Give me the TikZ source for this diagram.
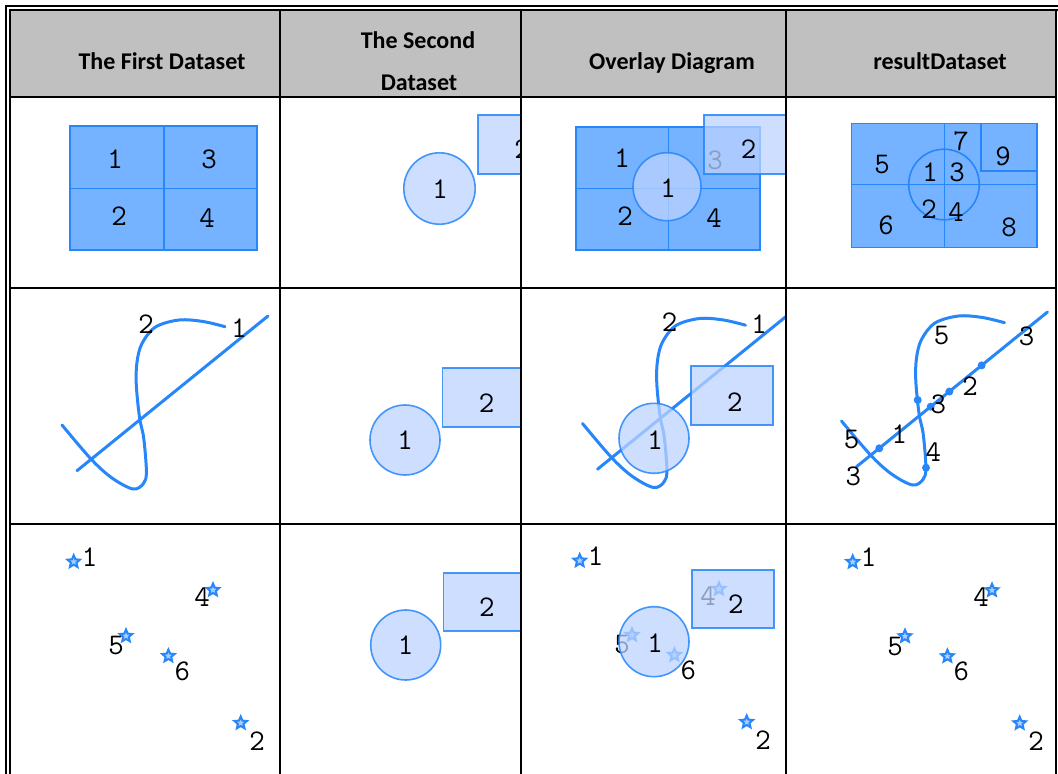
\documentclass[tikz,border=0pt]{standalone}
\usepackage{fontspec}
\newfontfamily\hdrfont{Carlito}
\usetikzlibrary{shapes.geometric}
\definecolor{hdrgray}{RGB}{192,192,192}
\definecolor{lineblue}{RGB}{38,134,250}
\definecolor{polyblue}{RGB}{117,178,255}
\definecolor{paleblue}{RGB}{188,211,255}
\tikzset{
  cellrule/.style={line width=1.7pt,black},
  headtext/.style={font=\hdrfont\bfseries\fontsize{24}{28}\selectfont,anchor=base,inner sep=0},
  numlabel/.style={font=\ttfamily\fontsize{30}{32}\selectfont,inner sep=0},
  polyregion/.style={fill=polyblue,draw=lineblue,line width=1.6pt},
  polyedge/.style={draw=lineblue,line width=1.6pt},
  coverfill/.style={fill=paleblue,fill opacity=0.75,draw=lineblue,draw opacity=0.85,line width=1.6pt},
  lineobj/.style={draw=lineblue,line width=3pt,line cap=round},
  vertexdot/.style={circle,fill=lineblue,inner sep=0,minimum size=8pt},
  pointstar/.style={star,star points=5,star point ratio=2.2,minimum size=13pt,inner sep=0,draw=lineblue,fill=lineblue!40,line width=2pt}
}

\begin{document}
\begin{tikzpicture}[x=1pt,y=-1pt]
    \useasboundingbox (0,0) rectangle (1058,774);
    \fill[hdrgray] (10,10) rectangle (1056,97);
    % header row
    \node[headtext] (head1) at (162,69.3) {The First Dataset};
    \node[headtext] (head2a) at (418,48.3) {The Second};
    \node[headtext] (head2b) at (419,90) {Dataset};
    \node[headtext] (head3) at (672,69.5) {Overlay Diagram};
    \node[headtext] (head4) at (940,69.5) {resultDataset};

    % row 1: regions
    \draw[polyregion] (70,126) rectangle (257,250);
    \draw[polyedge] (164,126) -- (164,250) (70,188.3) -- (257,188.3);
    \node[numlabel] (a1) at (115,159.3) {1};
    \node[numlabel] (a3) at (209,159.3) {3};
    \node[numlabel] (a2) at (119,216) {2};
    \node[numlabel] (a4) at (207,218) {4};

    \begin{scope}
        \clip (280,97) rectangle (521,288);
        \draw[coverfill] (439.5,188.5) circle[radius=35.7];
        \draw[coverfill] (478,115) rectangle (560,174);
        \node[numlabel] (b1) at (440,189) {1};
        \node[numlabel] (b2) at (522,149.3) {2};
    \end{scope}

    \draw[polyregion] (576,126.7) rectangle (760,250);
    \draw[polyedge] (668.5,126.7) -- (668.5,250) (576,188.3) -- (760,188.3);
    \node[numlabel] (c1) at (622,158) {1};
    \node[numlabel] (c3) at (715,160) {3};
    \node[numlabel] (c2) at (625,216) {2};
    \node[numlabel] (c4) at (714,218.3) {4};
    \draw[coverfill] (667,186.7) circle[radius=34];
    \node[numlabel] (c5) at (668,188.3) {1};
    \begin{scope}
        \clip (521,97) rectangle (786,288);
        \draw[coverfill] (704,115) rectangle (800,174);
        \node[numlabel] (c6) at (748.5,149.3) {2};
    \end{scope}

    \draw[polyregion] (851.6,123.3) rectangle (1037,247.3);
    \draw[polyedge] (944.5,123.3) -- (944.5,247.3) (851.6,184.3) -- (1037,184.3)
        (981,123.3) -- (981,171) -- (1037,171);
    \draw[polyedge] (944,184.5) circle[radius=35.3];
    \node[numlabel] (d7) at (961,141.7) {7};
    \node[numlabel] (d9) at (1003,156) {9};
    \node[numlabel] (d5) at (882,164.3) {5};
    \node[numlabel] (d1) at (930,171.7) {1};
    \node[numlabel] (d3) at (957,172.7) {3};
    \node[numlabel] (d2) at (929,209) {2};
    \node[numlabel] (d4) at (956,211.7) {4};
    \node[numlabel] (d6) at (886,225) {6};
    \node[numlabel] (d8) at (1009,227.3) {8};

    % row 2: lines
    \foreach \dx/\dy/\xl/\xr in {0/0/10/280, 520.5/-1.5/521/786, 779.5/-4/786/1056}{
        \begin{scope}
            \clip (\xl,288) rectangle (\xr,524);
            \begin{scope}[shift={(\dx,\dy)}]
                \draw[lineobj] (77,470.7) -- (268,316);
                \draw[lineobj] plot[smooth,tension=0.55] coordinates {(62,425) (91,459) (112,478) (133,489)
                    (143.5,483.5) (146.4,471.7) (143.7,438) (139.6,418) (136.3,385) (137,362) (142,343.5)
                    (155.5,327) (179,320) (203,321.5) (225,326.7)};
            \end{scope}
        \end{scope}
    }
    \node[numlabel] (e2) at (146,324.3) {2};
    \node[numlabel] (e1) at (239,328.3) {1};

    \begin{scope}
        \clip (280,288) rectangle (521,524);
        \draw[coverfill] (405,440) circle[radius=35];
        \draw[coverfill] (442.5,367.7) rectangle (560,426.7);
        \node[numlabel] (f1) at (405,440) {1};
        \node[numlabel] (f2) at (486.5,403.3) {2};
    \end{scope}

    \node[numlabel] (g2) at (669.5,322.3) {2};
    \node[numlabel] (g1) at (759,324.3) {1};
    \draw[coverfill] (654,438.3) circle[radius=35];
    \draw[coverfill] (691,365.7) rectangle (773,425);
    \node[numlabel] (g3) at (655,440) {1};
    \node[numlabel] (g4) at (734.8,402.3) {2};

    \path (856.6,466.7) -- (1047.5,312)
        node[vertexdot,pos=0.119] (v1) {}
        node[vertexdot,pos=0.388] (v2) {}
        node[vertexdot,pos=0.486] (v3) {}
        node[vertexdot,pos=0.655] (v4) {};
    \node[vertexdot] (v5) at (917.7,400) {};
    \node[vertexdot] (v6) at (926,467.7) {};
    \node[numlabel] (w5a) at (941.7,336) {5};
    \node[numlabel] (w3a) at (1026.7,336.7) {3};
    \node[numlabel] (w2) at (970,386) {2};
    \node[numlabel] (w3b) at (938.3,404) {3};
    \node[numlabel] (w1) at (899.3,434) {1};
    \node[numlabel] (w4) at (933.3,451.7) {4};
    \node[numlabel] (w5b) at (851.7,439.3) {5};
    \node[numlabel] (w3c) at (853.3,476.7) {3};

    % row 3: points
    \foreach \dx/\dy/\grp in {0/0/p, 506/-1/q, 779/0.3/r}{
        \begin{scope}[shift={(\dx,\dy)}]
            \foreach \sx/\sy/\lx/\ly/\t in {73.7/561.7/89.7/556.7/1, 213/590/202/597/4,
                126/636/116/646/5, 168.4/656/182.4/671/6, 240.7/723/257.2/740.7/2}{
                \node[pointstar] (\grp s\t) at (\sx,\sy) {};
                \node[numlabel] (\grp n\t) at (\lx,\ly) {\t};
            }
        \end{scope}
    }

    \begin{scope}
        \clip (280,524) rectangle (521,774);
        \draw[coverfill] (405.7,645) circle[radius=35];
        \draw[coverfill] (443.5,572.7) rectangle (560,630.7);
        \node[numlabel] (k1) at (405.7,645) {1};
        \node[numlabel] (k2) at (486.8,607) {2};
    \end{scope}

    \draw[coverfill] (654,641.7) circle[radius=35];
    \draw[coverfill] (691.8,570) rectangle (774,628);
    \node[numlabel] (m1) at (655,642.7) {1};
    \node[numlabel] (m2) at (735.8,604) {2};

    % table rules
    \draw[cellrule] (1058,6) -- (6,6) -- (6,774);
    \draw[cellrule] (1058,10) -- (10,10) -- (10,774);
    \foreach \cx in {280,521,786,1056} \draw[cellrule] (\cx,10) -- (\cx,774);
    \foreach \ry in {97,288,524} \draw[cellrule] (10,\ry) -- (1056,\ry);
\end{tikzpicture}
\end{document}
